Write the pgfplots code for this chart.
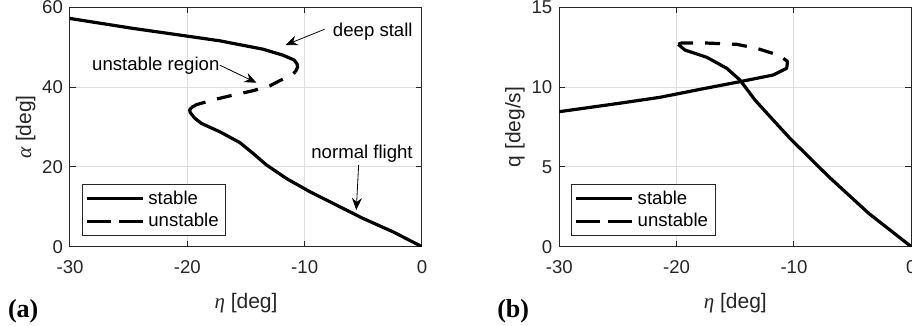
\documentclass[border=0pt]{standalone}
\usepackage{fontspec}
\setmainfont{Liberation Sans}
\newfontfamily\seriffont{Liberation Serif}
\usepackage{pgfplots}
\pgfplotsset{compat=1.18}
\usetikzlibrary{arrows.meta}

\definecolor{axgray}{gray}{0.15}
\definecolor{gridgray}{gray}{0.87}

\newcommand{\tickfont}{\fontsize{9.3}{11}\selectfont}
\newcommand{\labfont}{\fontsize{10.5}{12}\selectfont}
\newcommand{\gr}[1]{{\seriffont\itshape #1}}

\pgfplotsset{
  panel/.style={
    scale only axis, width=176pt, height=119.7pt,
    anchor=south west,
    xmin=-30, xmax=0, xtick={-30,-20,-10,0},
    tick align=inside, major tick length=3pt,
    axis line style={axgray, line width=0.5pt},
    every tick/.style={axgray, line width=0.5pt},
    grid=major, major grid style={gridgray, line width=0.5pt},
    tick label style={font=\tickfont, text=axgray},
    label style={font=\labfont, text=axgray},
    xticklabel shift=3.5pt,
    xlabel shift=3pt,
    ylabel shift=-3.5pt,
    /pgf/number format/assume math mode=true,
    xlabel={\gr{η} [deg]},
    legend cell align=left,
    legend style={at={(0,0)}, anchor=south west, xshift=5.85pt, yshift=5.3pt,
      draw=axgray, line width=0.5pt, font=\tickfont,
      inner xsep=1.5pt, inner ysep=1pt, row sep=-1pt},
    legend image code/.code={\draw[##1] (0pt,0pt) -- (28pt,0pt);},
  },
  curve/.style={black, line width=1.6pt, line join=round},
  uns/.style={curve, dash pattern=on 7.5pt off 6pt},
}

\begin{document}
\begin{tikzpicture}
% ---------------- (a) angle of attack ----------------
\begin{axis}[panel, at={(35pt,39.65pt)},
  ymin=0, ymax=60, ytick={0,20,40,60},
  ylabel={\gr{α} [deg]}]
  % normal-flight branch (stable)
  \addplot[curve, forget plot] coordinates {
    (0,0) (-2.49,3.76) (-5.04,7.1) (-7.3,10.45) (-9.57,13.8)
    (-11.56,17.1) (-13.26,20.5) (-14.4,23.4) (-15.53,26.1)
    (-17.23,28.8) (-18.8,30.9) (-19.36,32.2) (-19.75,33.6)
    (-19.8,34.3) (-19.64,34.9)};
  % unstable branch
  \addplot[uns, forget plot] coordinates {
    (-19.64,34.9) (-19.22,35.6) (-17.8,36.8) (-16.38,37.8) (-14.4,39.1)
    (-12.98,40.3) (-12.13,41.6) (-11.2,42.9) (-10.8,43.8)};
  % deep-stall branch (stable)
  \addplot[curve, forget plot] coordinates {
    (-10.8,43.8) (-10.6,45.0) (-10.65,45.8) (-10.9,46.8) (-11.85,48.0)
    (-13.55,49.5) (-17.23,51.6) (-21.49,53.4) (-24.6,54.7) (-30,57.2)};
  \addlegendimage{curve}
  \addlegendentry{stable}
  \addlegendimage{curve, dash pattern=on 12pt off 4pt}
  \addlegendentry{unstable}
  % annotations
  \draw[-{Stealth[length=6pt,width=5pt,inset=2pt]}, line width=0.4pt]
    (axis cs:-8.3,54.5) -- (axis cs:-11.62,50.55);
  \node[anchor=west, inner sep=0pt, font=\tickfont] at (axis cs:-7.62,53.9) {deep stall};
  \node[anchor=east, inner sep=0pt, font=\tickfont] at (axis cs:-17.23,45.3) {unstable region};
  \draw[-{Stealth[length=6pt,width=5pt,inset=2pt]}, line width=0.4pt]
    (axis cs:-17.23,45.5) -- (axis cs:-14.11,41.1);
  \node[inner sep=0pt, font=\tickfont] at (axis cs:-5.11,23.2) {normal flight};
  \draw[-{Stealth[length=6pt,width=5pt,inset=2pt]}, line width=0.4pt]
    (axis cs:-5.4,20.5) -- (axis cs:-5.6,9.2);
\end{axis}

% ---------------- (b) pitch rate ----------------
\begin{axis}[panel, at={(279.65pt,39.65pt)},
  ymin=0, ymax=15, ytick={0,5,10,15},
  ylabel={q [deg/s]}]
  \addplot[curve, forget plot] coordinates {
    (0,0) (-3.63,2.09) (-7.04,4.39) (-10.34,6.79) (-12.04,8.15)
    (-13.32,9.19) (-14.6,10.44) (-15.73,11.18) (-17.44,11.87)
    (-19.29,12.32) (-19.86,12.68)};
  \addplot[uns, forget plot] coordinates {
    (-19.86,12.68) (-19.6,12.76) (-17.44,12.76) (-14.88,12.68)
    (-13.18,12.43) (-11.62,12.07) (-10.9,11.8)};
  \addplot[curve, forget plot] coordinates {
    (-10.9,11.8) (-10.55,11.6) (-10.62,11.18) (-11.76,10.76) (-14.6,10.34)
    (-18.0,9.86) (-21.42,9.36) (-24.94,8.98) (-30,8.46)};
  \addlegendimage{curve}
  \addlegendentry{stable}
  \addlegendimage{curve, dash pattern=on 12pt off 4pt}
  \addlegendentry{unstable}
\end{axis}

% panel tags
\node[font=\seriffont\bfseries\fontsize{13}{15}\selectfont] at (11.6pt,7.4pt) {(a)};
\node[font=\seriffont\bfseries\fontsize{13}{15}\selectfont] at (256.6pt,7.4pt) {(b)};

\pgfresetboundingbox
\useasboundingbox (0pt,0pt) rectangle (456pt,163pt);
\end{tikzpicture}
\end{document}
